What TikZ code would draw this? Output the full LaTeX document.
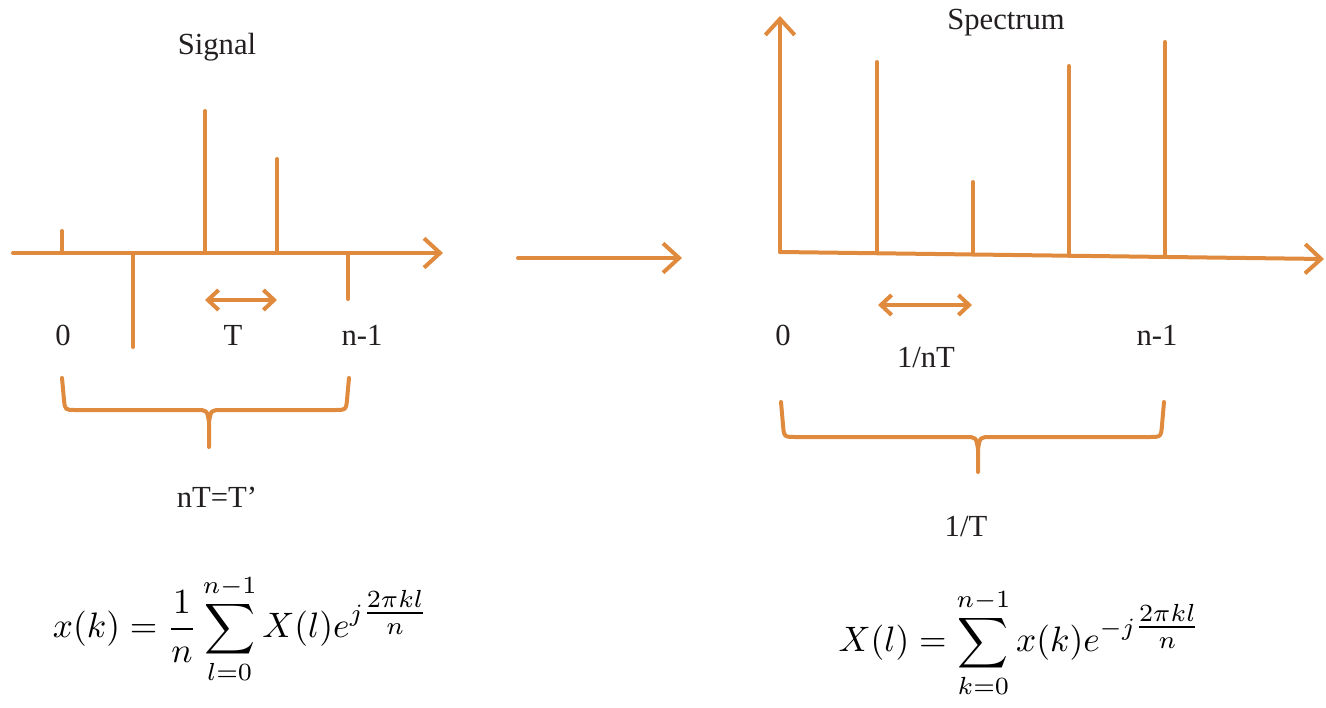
\documentclass[tikz,border=0pt]{standalone}
\usepackage{fontspec}
\setmainfont{Liberation Serif}
\usepackage{amsmath}
\usetikzlibrary{arrows.meta}
\definecolor{sig}{RGB}{224,138,62}
\definecolor{ink}{RGB}{35,31,32}
\tikzset{
  ln/.style={draw=sig, line width=3pt, line cap=round, line join=round},
  bigtip/.style={-{Straight Barb[length=12pt,width=22pt,line width=3pt]}},
  dbltip/.style={{Straight Barb[length=8pt,width=15pt,line width=3pt]}-{Straight Barb[length=8pt,width=15pt,line width=3pt]}},
  lbl/.style={text=ink, font=\fontsize{23}{27}\selectfont, inner sep=0pt},
  frm/.style={text=black, inner sep=0pt}
}
\begin{document}
\begin{tikzpicture}[x=0.75pt,y=-0.75pt]
\useasboundingbox (0,0) rectangle (1326,707);
% ---------- left: signal ----------
\coordinate (la0) at (13,253);
\coordinate (la1) at (443,253);
\draw[ln,bigtip] (la0) -- (la1);
\draw[ln] (62,253) -- (62,231);
\draw[ln] (133,253) -- (133,347);
\draw[ln] (205,253) -- (205,111);
\draw[ln] (277,253) -- (277,159);
\draw[ln] (348,253) -- (348,299);
\coordinate (tA) at (205,300);
\coordinate (tB) at (277,300);
\draw[ln,dbltip] (tA) -- (tB);
\node[lbl] (sig) at (217,47) {Signal};
\node[lbl] (l0) at (63,335) {0};
\node[lbl] (lT) at (233,335) {T};
\node[lbl] (ln1) at (362,335) {n-1};
\draw[ln] (62,378) -- (64,400) .. controls (65,410) .. (76,410) -- (196,410) .. controls (207,410) .. (209,422) -- (209,447);
\draw[ln] (349,378) -- (347,400) .. controls (346,410) .. (335,410) -- (222,410) .. controls (211,410) .. (209,422);
\node[lbl] (nT) at (217,497) {nT=T’};
\node[frm] (f1) at (241,629) {\scalebox{2.65}{$\displaystyle x(k)=\frac{1}{n}\sum_{l=0}^{n-1}X(l)e^{j{\textstyle\frac{2\pi kl}{n}}}$}};
% ---------- middle arrow ----------
\coordinate (m0) at (518,258);
\coordinate (m1) at (682,258);
\draw[ln,bigtip] (m0) -- (m1);
% ---------- right: spectrum ----------
\coordinate (o) at (780,252);
\coordinate (ry) at (780,16);
\coordinate (rx) at (1324,259);
\draw[ln,bigtip] (o) -- (ry);
\draw[ln,bigtip] (o) -- (rx);
\draw[ln] (877,253) -- (877,62);
\draw[ln] (973,254.5) -- (973,182);
\draw[ln] (1069,256) -- (1069,66);
\draw[ln] (1165,257) -- (1165,42);
\coordinate (fA) at (878,305);
\coordinate (fB) at (972,305);
\draw[ln,dbltip] (fA) -- (fB);
\node[lbl] (spec) at (1006,23) {Spectrum};
\node[lbl] (r0) at (783,335) {0};
\node[lbl] (rn1) at (1157,335) {n-1};
\node[lbl] (rnT) at (926,358) {1/nT};
\draw[ln] (781,402) -- (783,425) .. controls (784,437) .. (796,437) -- (965,437) .. controls (976,437) .. (978,449) -- (978,472);
\draw[ln] (1164,402) -- (1162,425) .. controls (1161,437) .. (1149,437) -- (991,437) .. controls (980,437) .. (978,449);
\node[lbl] (rT) at (966,527) {1/T};
\node[frm] (f2) at (1020,643) {\scalebox{2.65}{$\displaystyle X(l)=\sum_{k=0}^{n-1}x(k)e^{-j{\textstyle\frac{2\pi kl}{n}}}$}};
\end{tikzpicture}
\end{document}
